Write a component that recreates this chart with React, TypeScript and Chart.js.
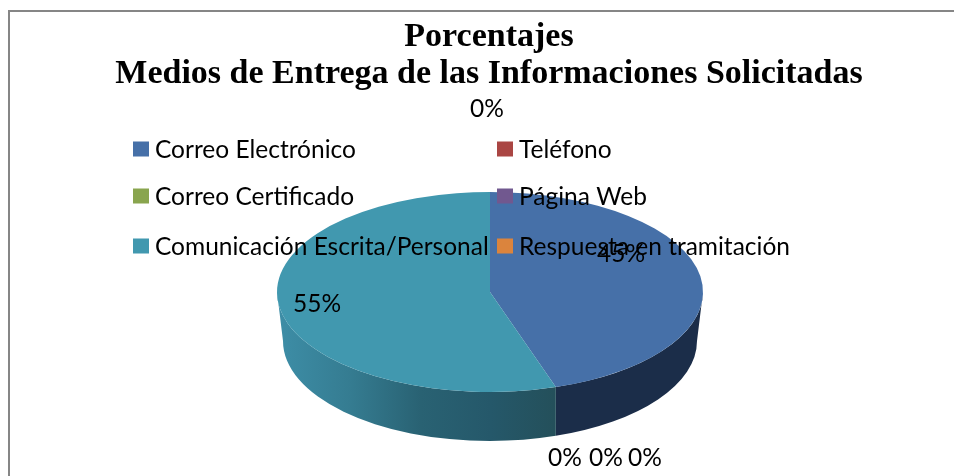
import React, { useEffect, useRef } from "react";
import { Chart, registerables } from "chart.js";

Chart.register(...registerables);

const categories = [
  "Correo Electrónico",
  "Teléfono",
  "Correo Certificado",
  "Página Web",
  "Comunicación Escrita/Personal",
  "Respuesta en tramitación",
];
const shares = [45, 0, 0, 0, 55, 0];
const sliceColors = ["#4670A8", "#AA4643", "#89A54E", "#71588F", "#4198AF", "#DB843D"];
const titleLines = ["Porcentajes", "Medios de Entrega de las Informaciones Solicitadas"];

const TEXT_FONT = "24.5px Lato";
const TOP = { x: 490, y: 292, rx: 213, ry: 100 };
const BOTTOM = { x: 490, y: 341, rx: 207, ry: 100 };
const LABEL_ANCHORS: [number, number][] = [
  [621, 254],
  [565, 458],
  [606, 458],
  [645, 458],
  [317, 304],
  [487, 109],
];
const LEGEND_COLUMNS = [133, 497];
const LEGEND_ROWS = [150, 197, 247];

const bottomAngle = (t: number) => {
  const x = TOP.x + TOP.rx * Math.cos(t);
  const c = Math.max(-1, Math.min(1, (x - BOTTOM.x) / BOTTOM.rx));
  return Math.acos(c);
};

const pie3d = {
  id: "pie3d",
  beforeDraw(chart: any) {
    const { ctx } = chart;
    ctx.save();
    ctx.fillStyle = "#ffffff";
    ctx.fillRect(0, 0, chart.width, chart.height);
    ctx.fillStyle = "#868686";
    ctx.fillRect(8, 10, chart.width - 8, 2);
    ctx.fillRect(8, 10, 2, chart.height - 10);
    ctx.restore();
  },
  beforeDatasetsDraw(chart: any) {
    const { ctx } = chart;
    const arcs = chart.getDatasetMeta(0).data;
    arcs.forEach((arc: any, i: number) => {
      const a = Math.max(arc.startAngle, 0);
      const b = Math.min(arc.endAngle, Math.PI);
      if (b <= a) return;
      ctx.save();
      ctx.beginPath();
      ctx.ellipse(TOP.x, TOP.y, TOP.rx, TOP.ry, 0, a, b);
      ctx.ellipse(BOTTOM.x, BOTTOM.y, BOTTOM.rx, BOTTOM.ry, 0, b >= Math.PI ? b : bottomAngle(b), a <= 0 ? a : bottomAngle(a), true);
      ctx.closePath();
      if (i === 0) {
        ctx.fillStyle = "#1B2D49";
      } else {
        const g = ctx.createLinearGradient(280, 0, 561, 0);
        g.addColorStop(0, "#3D8DA6");
        g.addColorStop(0.25, "#357C91");
        g.addColorStop(0.5, "#296273");
        g.addColorStop(0.75, "#25586A");
        g.addColorStop(1, "#244F59");
        ctx.fillStyle = g;
      }
      ctx.fill();
      ctx.restore();
    });
    const first = arcs[0];
    const R = first.outerRadius;
    ctx.save();
    ctx.translate(TOP.x, TOP.y);
    ctx.scale(TOP.rx / R, TOP.ry / R);
    ctx.translate(-first.x, -first.y);
  },
  afterDatasetsDraw(chart: any) {
    chart.ctx.restore();
  },
  afterDraw(chart: any) {
    const { ctx } = chart;
    const labels: string[] = chart.data.labels;
    const values: number[] = chart.data.datasets[0].data;
    const colors: string[] = chart.data.datasets[0].backgroundColor;
    const total = values.reduce((s, v) => s + v, 0);
    ctx.save();
    ctx.font = TEXT_FONT;
    ctx.textBaseline = "middle";
    labels.forEach((label, i) => {
      const x = LEGEND_COLUMNS[i % 2];
      const y = LEGEND_ROWS[Math.floor(i / 2)];
      ctx.fillStyle = colors[i];
      ctx.fillRect(x, y - 8.5, 16, 15);
      ctx.fillStyle = "#000000";
      ctx.textAlign = "left";
      ctx.fillText(label, x + 22, y);
    });
    ctx.textAlign = "center";
    values.forEach((v, i) => {
      const [x, y] = LABEL_ANCHORS[i];
      ctx.fillText(`${Math.round((v / total) * 100)}%`, x, y);
    });
    ctx.restore();
  },
};

export default function App() {
  const ref = useRef<HTMLCanvasElement>(null);
  useEffect(() => {
    const chart = new Chart(ref.current!, {
      type: "pie",
      data: {
        labels: categories,
        datasets: [{ data: shares, backgroundColor: sliceColors, borderWidth: 0 }],
      },
      options: {
        animation: false,
        responsive: false,
        layout: { padding: { left: 24 } },
        plugins: {
          legend: { display: false },
          tooltip: { enabled: false },
          title: {
            display: true,
            text: titleLines,
            color: "#000000",
            font: { family: "'Liberation Serif'", size: 34, weight: "bold", lineHeight: 1.09 },
            padding: { top: 19, bottom: 4 },
          },
        },
      },
      plugins: [pie3d],
    } as any);
    return () => chart.destroy();
  }, []);
  return (
    <div style={{ position: "fixed", left: 0, top: 0, width: 954, height: 476 }}>
      <canvas ref={ref} width={954} height={476} style={{ display: "block" }} />
    </div>
  );
}
